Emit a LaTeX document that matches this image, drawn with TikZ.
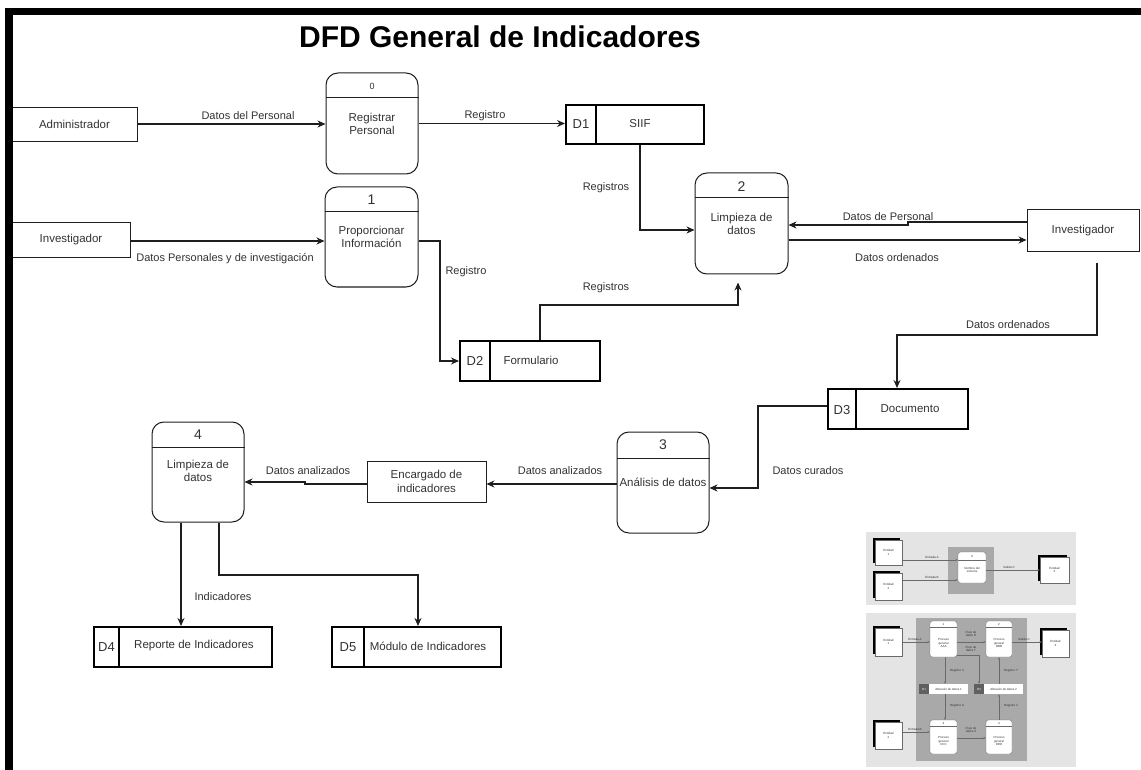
\documentclass[tikz,border=0pt]{standalone}
\usepackage{fontspec}
\setmainfont{Liberation Sans}
\usetikzlibrary{arrows.meta,shadows}

\definecolor{ink}{HTML}{1E1E1E}
\definecolor{txt}{HTML}{333333}
\definecolor{thbg}{HTML}{E4E4E4}
\definecolor{thdark}{HTML}{A9A9A9}
\definecolor{thline}{HTML}{6A6A6A}

\tikzset{
  every node/.style={text=txt, font=\fontsize{11.5}{13.5}\selectfont},
  entity/.style={draw=ink, line width=0.9pt, fill=white, inner sep=0pt},
  procbox/.style={draw=ink, line width=1pt, rounded corners=12pt, fill=white, inner sep=0pt},
  store/.style={draw=black, line width=2pt, fill=white, inner sep=0pt},
  divider/.style={draw=black, line width=1.4pt},
  hdr/.style={draw=ink, line width=1pt},
  flow/.style={draw=ink, line width=1.2pt, -{Stealth[length=8pt,width=7pt]}},
  lbl/.style={font=\fontsize{11}{13}\selectfont, text=txt, inner sep=1pt},
  ptext/.style={align=center, inner sep=0pt},
  pnum/.style={font=\fontsize{14}{16}\selectfont, inner sep=0pt},
  dnum/.style={font=\fontsize{13}{15}\selectfont, inner sep=0pt},
  % small reference sketches
  tent/.style={draw=thline, line width=0.3pt, fill=white, inner sep=0pt,
    general shadow={fill=black, shadow xshift=-2.5pt, shadow yshift=2.5pt},
    font=\fontsize{3}{3.6}\selectfont, align=center},
  tproc/.style={draw=thline, line width=0.3pt, fill=white, rounded corners=2.5pt, inner sep=0pt},
  tstore/.style={fill=white, inner sep=0pt, font=\fontsize{3}{3.6}\selectfont},
  tsq/.style={fill=gray!75!black, inner sep=0pt, text=white, font=\fontsize{3}{3.6}\selectfont},
  tflow/.style={draw=thline, line width=0.5pt, -{Stealth[length=2.5pt,width=2pt]}},
  tlbl/.style={font=\fontsize{3}{3.6}\selectfont, text=gray!40!black, align=center, inner sep=0.3pt},
}

\begin{document}
\begin{tikzpicture}[x=1pt,y=-1pt]
\useasboundingbox (0,0) rectangle (1141,770);
\fill[white] (0,0) rectangle (1141,770);

% title
\node[anchor=base, text=black, font=\bfseries\fontsize{30}{36}\selectfont] (title) at (500,48) {DFD General de Indicadores};

% external entities
\node[entity, minimum width=125, minimum height=34] (adm) at (74.5,124) {Administrador};
\node[entity, minimum width=118, minimum height=35] (inv1) at (71,239.5) {Investigador};
\node[entity, minimum width=112, minimum height=42] (inv2) at (1083,230.5) {Investigador};
\node[entity, minimum width=119, minimum height=41, align=center] (enc) at (426.5,481.5) {Encargado de\\indicadores};

% processes
\node[procbox, minimum width=92, minimum height=101] (p0) at (372,123.5) {};
\draw[hdr] (p0.west |- 0,98) -- (p0.east |- 0,98);
\node[inner sep=0pt, font=\fontsize{9}{10}\selectfont] (p0n) at (372,86) {0};
\node[ptext] (p0t) at (372,124) {Registrar\\Personal};

\node[procbox, minimum width=93, minimum height=100] (p1) at (371.5,237) {};
\draw[hdr] (p1.west |- 0,212) -- (p1.east |- 0,212);
\node[pnum] (p1n) at (371.5,200) {1};
\node[ptext] (p1t) at (371.5,237) {Proporcionar\\Información};

\node[procbox, minimum width=93, minimum height=101] (p2) at (741.5,223.5) {};
\draw[hdr] (p2.west |- 0,198) -- (p2.east |- 0,198);
\node[pnum] (p2n) at (741.5,186.5) {2};
\node[ptext] (p2t) at (741.5,224) {Limpieza de\\datos};

\node[procbox, minimum width=92, minimum height=101] (p3) at (663,482.5) {};
\draw[hdr] (p3.west |- 0,458) -- (p3.east |- 0,458);
\node[pnum] (p3n) at (663,445) {3};
\node[ptext] (p3t) at (663,482) {Análisis de datos};

\node[procbox, minimum width=92, minimum height=100] (p4) at (198,472) {};
\draw[hdr] (p4.west |- 0,447) -- (p4.east |- 0,447);
\node[pnum] (p4n) at (198,435) {4};
\node[ptext] (p4t) at (198,471) {Limpieza de\\datos};

% data stores
\node[store, minimum width=138, minimum height=39] (d1) at (635,124.5) {};
\draw[divider] (596,0 |- d1.north) -- (596,0 |- d1.south);
\node[dnum] (d1n) at (581,124.5) {D1};
\node[inner sep=0pt] (d1t) at (640,124) {SIIF};

\node[store, minimum width=140, minimum height=40] (d2) at (530,361) {};
\draw[divider] (490,0 |- d2.north) -- (490,0 |- d2.south);
\node[dnum] (d2n) at (475,361) {D2};
\node[inner sep=0pt] (d2t) at (531,360) {Formulario};

\node[store, minimum width=140, minimum height=40] (d3) at (898,409) {};
\draw[divider] (856,0 |- d3.north) -- (856,0 |- d3.south);
\node[dnum] (d3n) at (842,410) {D3};
\node[inner sep=0pt] (d3t) at (910,409) {Documento};

\node[store, minimum width=178, minimum height=40] (d4) at (183,647) {};
\draw[divider] (119,0 |- d4.north) -- (119,0 |- d4.south);
\node[dnum] (d4n) at (106.5,647) {D4};
\node[inner sep=0pt] (d4t) at (194,646) {Reporte de Indicadores};

\node[store, minimum width=169, minimum height=40] (d5) at (416.5,647) {};
\draw[divider] (364,0 |- d5.north) -- (364,0 |- d5.south);
\node[dnum] (d5n) at (348,647) {D5};
\node[inner sep=0pt] (d5t) at (428,646) {Módulo de Indicadores};

% data flows
\draw[flow] (adm.east) -- (adm.east -| p0.west);
\node[lbl] at (248,116) {Datos del Personal};

\draw[flow] (p0.east) -- (p0.east -| d1.west);
\node[lbl] at (485,116) {Registro};

\draw[flow] (640,0 |- d1.south) |- (p2.west |- 0,230);
\node[lbl] at (606,188) {Registros};

\draw[flow] (inv1.east |- 0,241) -- (p1.west |- 0,241);
\node[lbl] at (225,259) {Datos Personales y de investigación};

\draw[flow] (p1.east |- 0,241) -| (440,0 |- d2.west) -- (d2.west);
\node[lbl] at (466,272) {Registro};

\draw[flow, shorten >=8pt] (540,0 |- d2.north) |- (738,305) -- (738,0 |- p2.south);
\node[lbl] at (606,288) {Registros};

\draw[flow] (inv2.west |- 0,222) -- (908,222) -- (908,225) -- (p2.east |- 0,225);
\node[lbl] at (888,217) {Datos de Personal};

\draw[flow] (p2.east |- 0,240) -- (inv2.west |- 0,240);
\node[lbl] at (897,258) {Datos ordenados};

\draw[flow, shorten <=11pt] (1097,0 |- inv2.south) |- (897,335) -- (897,0 |- d3.north);
\node[lbl] at (1008,325) {Datos ordenados};

\draw[flow] (d3.west |- 0,406) -| (758,488) -- (p3.east |- 0,488);
\node[lbl] at (808,471) {Datos curados};

\draw[flow] (p3.west |- 0,484) -- (enc.east |- 0,484);
\node[lbl] at (560,471) {Datos analizados};

\draw[flow] (enc.west |- 0,484) -- (305,484) -- (305,482) -- (p4.east |- 0,482);
\node[lbl] at (308,471) {Datos analizados};

\draw[flow] (181,0 |- p4.south) -- (181,0 |- d4.north);
\node[lbl] at (223,597) {Indicadores};

\draw[flow] (219,0 |- p4.south) |- (418,575) -- (418,0 |- d5.north);

% context diagram sketch
\fill[thbg] (866,532) rectangle (1076,605);
\fill[thdark] (948,547) rectangle (994,594);
\node[tent, minimum width=27, minimum height=25] (ta1) at (888.5,552.5) {Entidad\\1};
\node[tent, minimum width=27, minimum height=27] (ta2) at (888.5,586.5) {Entidad\\2};
\node[tent, minimum width=29, minimum height=26] (ta3) at (1054.5,570) {Entidad\\3};
\node[tproc, minimum width=28, minimum height=31] (tp0) at (972,567.5) {};
\draw[thline, line width=0.3pt] (tp0.west |- 0,560) -- (tp0.east |- 0,560);
\node[tlbl] at (972,556) {0};
\node[tlbl] at (972,570) {Nombre del\\sistema};
\draw[tflow] (ta1.east |- 0,560) -- (tp0.west |- 0,560);
\node[tlbl] at (932,557) {Entrada A};
\draw[tflow] (ta2.east |- 0,580) -- (tp0.west |- 0,580);
\node[tlbl] at (932,577) {Entrada B};
\draw[tflow] (tp0.east |- 0,570) -- (ta3.west |- 0,570);
\node[tlbl] at (1009,567) {Salida C};

% level-1 diagram sketch
\fill[thbg] (866,613) rectangle (1076,767);
\fill[thdark] (916,618) rectangle (1027,761);
\node[tent, minimum width=27, minimum height=28] (tb1) at (888.5,642) {Entidad\\1};
\node[tent, minimum width=27, minimum height=27] (tb2) at (888.5,735.5) {Entidad\\2};
\node[tent, minimum width=27, minimum height=27] (tb3) at (1055.5,643.5) {Entidad\\3};

\node[tproc, minimum width=27, minimum height=36] (tpa) at (943.5,639) {};
\draw[thline, line width=0.3pt] (tpa.west |- 0,627) -- (tpa.east |- 0,627);
\node[tlbl] at (943.5,624) {1};
\node[tlbl] at (943.5,643) {Proceso\\general\\AAA};

\node[tproc, minimum width=26, minimum height=36] (tpb) at (999,639) {};
\draw[thline, line width=0.3pt] (tpb.west |- 0,627) -- (tpb.east |- 0,627);
\node[tlbl] at (999,624) {2};
\node[tlbl] at (999,643) {Proceso\\general\\BBB};

\node[tproc, minimum width=27, minimum height=34] (tpc) at (943.5,737) {};
\draw[thline, line width=0.3pt] (tpc.west |- 0,726) -- (tpc.east |- 0,726);
\node[tlbl] at (943.5,723) {3};
\node[tlbl] at (943.5,741) {Proceso\\general\\CCC};

\node[tproc, minimum width=26, minimum height=34] (tpd) at (999,737) {};
\draw[thline, line width=0.3pt] (tpd.west |- 0,726) -- (tpd.east |- 0,726);
\node[tlbl] at (999,723) {4};
\node[tlbl] at (999,741) {Proceso\\general\\DDD};

\node[tstore, minimum width=39, minimum height=10] (ts1) at (948.5,689) {Almacén de datos 1};
\node[tsq, minimum width=10, minimum height=10] (tq1) at (924,689) {D1};
\node[tstore, minimum width=39, minimum height=10] (ts2) at (1003.5,689) {Almacén de datos 2};
\node[tsq, minimum width=10, minimum height=10] (tq2) at (979,689) {D2};

\draw[tflow] (tb1.east |- 0,642) -- (tpa.west |- 0,642);
\node[tlbl] at (915,639) {Entrada A};
\draw[tflow] (tpa.east |- 0,642) -- (tpb.west |- 0,642);
\node[tlbl] at (971,634) {Flujo de\\datos R};
\draw[tflow] (tpa.east |- 0,655) -| (tq2.north);
\node[tlbl] at (971,649) {Flujo de\\datos T};
\draw[tflow] (tpb.east |- 0,642) -- (tb3.west |- 0,642);
\node[tlbl] at (1024,639) {Salida C};
\draw[tflow] (945,0 |- tpa.south) -- (945,0 |- ts1.north);
\node[tlbl] at (957,671) {Registro X};
\draw[tflow] (945,0 |- ts1.south) -- (945,0 |- tpc.north);
\node[tlbl] at (957,706) {Registro A};
\draw[tflow] (999,0 |- ts2.north) -- (999,0 |- tpb.south);
\node[tlbl] at (1011,671) {Registro Y};
\draw[tflow] (999,0 |- tpd.north) -- (999,0 |- ts2.south);
\node[tlbl] at (1011,706) {Registro Z};
\draw[tflow] (tb2.east |- 0,732) -- (tpc.west |- 0,732);
\node[tlbl] at (915,729) {Entrada B};
\draw[tflow] (tpc.east |- 0,738) -- (tpd.west |- 0,738);
\node[tlbl] at (971,730) {Flujo de\\datos S};

% frame
\fill[black] (5,8) rectangle (1141,15);
\fill[black] (5,8) rectangle (13,770);
\end{tikzpicture}
\end{document}
